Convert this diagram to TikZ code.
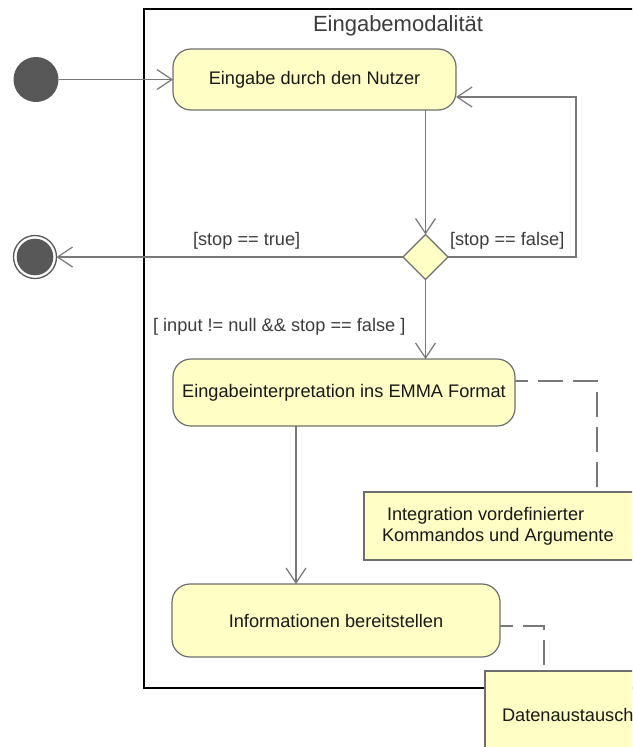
\documentclass[tikz,border=0pt]{standalone}
\usepackage{fontspec}
\setmainfont{Liberation Sans}
\usetikzlibrary{arrows.meta,shapes.geometric}
\definecolor{actfill}{RGB}{255,255,197}
\definecolor{actline}{RGB}{110,110,110}
\definecolor{connline}{RGB}{120,120,120}
\definecolor{dotfill}{RGB}{88,88,88}
\definecolor{txt}{RGB}{25,25,25}
\definecolor{lbl}{RGB}{60,60,60}

\begin{document}
\begin{tikzpicture}[x=1pt,y=-1pt,
  every node/.style={inner sep=0pt, outer sep=0pt, font=\fontsize{18.2}{22}\selectfont},
  action/.style={draw=actline, fill=actfill, line width=1.2pt, rounded corners=18pt, text=txt},
  notebox/.style={draw=actline, fill=actfill, line width=1.2pt},
  decision/.style={diamond, draw=actline, fill=actfill, line width=1.2pt,
    minimum width=45pt, minimum height=45pt},
  startdot/.style={circle, fill=dotfill, minimum size=45pt},
  enddot/.style={circle, draw=dotfill, line width=1.3pt, fill=white, minimum size=43pt,
    path picture={\fill[dotfill] (path picture bounding box.center) circle (18.3pt);}},
  conn/.style={draw=connline, line width=1.2pt, -{Straight Barb[length=15pt,width=20pt]}},
  dashconn/.style={draw=connline, line width=1.2pt, dash pattern=on 25pt off 10pt, dash phase=12pt},
  guard/.style={anchor=base west, text=lbl},
  notetext/.style={anchor=base west, text=txt},
  frameline/.style={draw=black, line width=1.3pt}
]
\useasboundingbox (0,0) rectangle (632,747);
\clip (0,0) rectangle (632,747);

% activity partition frame
\draw[frameline] (144,9) rectangle (700,688);
\node[anchor=base west, text=lbl, font=\fontsize{22}{26}\selectfont] (title) at (313,31.7) {Eingabemodalität};

% start and end
\node[startdot] (start) at (36,79.5) {};
\node[enddot] (final) at (35,257) {};

% actions
\node[action, minimum width=283pt, minimum height=61pt] (a1) at (314.5,79.5) {Eingabe durch den Nutzer};
\node[decision] (dec) at (425.5,257) {};
\node[action, minimum width=342pt, minimum height=67pt] (emma) at (344,392.5) {Eingabeinterpretation ins EMMA Format};
\node[action, minimum width=328pt, minimum height=73pt] (info) at (336,620.5) {Informationen bereitstellen};

% notes
\node[notebox, minimum width=296pt, minimum height=68pt] (note1) at (512,526) {};
\node[notetext] (note1a) at (387,520) {Integration vordefinierter};
\node[notetext] (note1b) at (382,541.7) {Kommandos und Argumente};
\node[notebox, minimum width=175pt, minimum height=109pt] (note2) at (572.5,725.5) {};
\node[notetext] (note2a) at (502,721.7) {Datenaustausch};

% control flow
\draw[conn] (start.east) -- (a1.west);
\draw[conn] (a1.south -| dec.north) -- (dec.north);
\draw[conn] (dec.east) -| (576,97) -- (a1.east |- 0,97);
\draw[conn] (dec.west) -- (final.east);
\draw[conn] (dec.south) -- (dec.south |- emma.north);
\draw[conn] (emma.south -| 296,0) -- (info.north -| 296,0);

% guards
\node[guard] (gtrue) at (193,245) {[stop == true]};
\node[guard] (gfalse) at (450,245) {[stop == false]};
\node[guard] (ginput) at (153,331.5) {[ input != null \&\& stop == false ]};

% note anchors
\draw[dashconn] (emma.east |- 0,381) -| (note1.north -| 597,0);
\draw[dashconn] (info.east |- 0,626) -| (note2.north -| 544,0);
\end{tikzpicture}
\end{document}
